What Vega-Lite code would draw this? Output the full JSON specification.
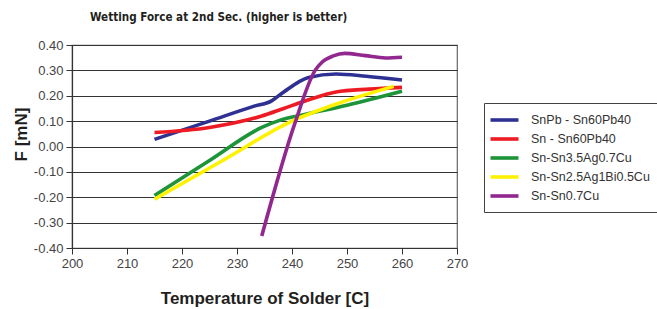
{
  "$schema": "https://vega.github.io/schema/vega-lite/v6.json",
  "width": 385,
  "height": 203,
  "autosize": {"type": "none"},
  "padding": {"left": 72, "top": 45, "right": 200, "bottom": 61},
  "background": "white",
  "title": {
    "text": "Wetting Force at 2nd  Sec. (higher is better)",
    "anchor": "start",
    "frame": "group",
    "dx": 18,
    "offset": 15,
    "font": "DejaVu Sans Condensed, Liberation Sans",
    "fontSize": 11.6,
    "fontWeight": "bold",
    "color": "#231f20"
  },
  "data": {
    "values": [
      {"series": "SnPb - Sn60Pb40", "t": 215, "f": 0.028},
      {"series": "SnPb - Sn60Pb40", "t": 225, "f": 0.10},
      {"series": "SnPb - Sn60Pb40", "t": 233, "f": 0.158},
      {"series": "SnPb - Sn60Pb40", "t": 236.3, "f": 0.18},
      {"series": "SnPb - Sn60Pb40", "t": 238.5, "f": 0.215},
      {"series": "SnPb - Sn60Pb40", "t": 243, "f": 0.272},
      {"series": "SnPb - Sn60Pb40", "t": 248, "f": 0.286},
      {"series": "SnPb - Sn60Pb40", "t": 253.5, "f": 0.277},
      {"series": "SnPb - Sn60Pb40", "t": 260, "f": 0.262},
      {"series": "Sn - Sn60Pb40", "t": 215, "f": 0.055},
      {"series": "Sn - Sn60Pb40", "t": 225, "f": 0.075},
      {"series": "Sn - Sn60Pb40", "t": 234.5, "f": 0.12},
      {"series": "Sn - Sn60Pb40", "t": 238.5, "f": 0.15},
      {"series": "Sn - Sn60Pb40", "t": 242.5, "f": 0.18},
      {"series": "Sn - Sn60Pb40", "t": 248, "f": 0.215},
      {"series": "Sn - Sn60Pb40", "t": 254, "f": 0.226},
      {"series": "Sn - Sn60Pb40", "t": 260, "f": 0.233},
      {"series": "Sn-Sn3.5Ag0.7Cu", "t": 215, "f": -0.193},
      {"series": "Sn-Sn3.5Ag0.7Cu", "t": 225, "f": -0.055},
      {"series": "Sn-Sn3.5Ag0.7Cu", "t": 234.5, "f": 0.075},
      {"series": "Sn-Sn3.5Ag0.7Cu", "t": 238, "f": 0.105},
      {"series": "Sn-Sn3.5Ag0.7Cu", "t": 242.5, "f": 0.127},
      {"series": "Sn-Sn3.5Ag0.7Cu", "t": 250, "f": 0.163},
      {"series": "Sn-Sn3.5Ag0.7Cu", "t": 260, "f": 0.218},
      {"series": "Sn-Sn2.5Ag1Bi0.5Cu", "t": 215, "f": -0.208},
      {"series": "Sn-Sn2.5Ag1Bi0.5Cu", "t": 227, "f": -0.06},
      {"series": "Sn-Sn2.5Ag1Bi0.5Cu", "t": 240, "f": 0.10},
      {"series": "Sn-Sn2.5Ag1Bi0.5Cu", "t": 248, "f": 0.167},
      {"series": "Sn-Sn2.5Ag1Bi0.5Cu", "t": 258.5, "f": 0.237},
      {"series": "Sn-Sn0.7Cu", "t": 234.5, "f": -0.353},
      {"series": "Sn-Sn0.7Cu", "t": 240.5, "f": 0.09},
      {"series": "Sn-Sn0.7Cu", "t": 244.2, "f": 0.30},
      {"series": "Sn-Sn0.7Cu", "t": 245.5, "f": 0.333},
      {"series": "Sn-Sn0.7Cu", "t": 247.5, "f": 0.357},
      {"series": "Sn-Sn0.7Cu", "t": 249.6, "f": 0.367},
      {"series": "Sn-Sn0.7Cu", "t": 253.3, "f": 0.358},
      {"series": "Sn-Sn0.7Cu", "t": 257, "f": 0.349},
      {"series": "Sn-Sn0.7Cu", "t": 260, "f": 0.352}
    ]
  },
  "mark": {"type": "line", "interpolate": "monotone", "strokeWidth": 3.6},
  "encoding": {
    "x": {
      "field": "t", "type": "quantitative",
      "scale": {"domain": [200, 270], "nice": false, "zero": false},
      "axis": {
        "values": [200, 210, 220, 230, 240, 250, 260, 270],
        "grid": false,
        "labelFlush": false,
        "title": "Temperature of Solder [C]",
        "titlePadding": 20
      }
    },
    "y": {
      "field": "f", "type": "quantitative",
      "scale": {"domain": [-0.4, 0.4], "nice": false, "zero": false},
      "axis": {
        "values": [-0.4, -0.3, -0.2, -0.1, 0, 0.1, 0.2, 0.3, 0.4],
        "format": ".2f",
        "grid": true,
        "labelFlush": false,
        "gridColor": "#333333",
        "gridWidth": 1,
        "gridOpacity": 1,
        "title": "F [mN]",
        "titleAngle": 270,
        "titleX": -51,
        "titleY": 89,
        "titleAlign": "center",
        "titleBaseline": "middle"
      }
    },
    "color": {
      "field": "series", "type": "nominal",
      "sort": ["SnPb - Sn60Pb40", "Sn - Sn60Pb40", "Sn-Sn3.5Ag0.7Cu", "Sn-Sn2.5Ag1Bi0.5Cu", "Sn-Sn0.7Cu"],
      "scale": {
        "domain": ["SnPb - Sn60Pb40", "Sn - Sn60Pb40", "Sn-Sn3.5Ag0.7Cu", "Sn-Sn2.5Ag1Bi0.5Cu", "Sn-Sn0.7Cu"],
        "range": ["#2E3192", "#ED1C24", "#1E9438", "#FFF200", "#92278F"]
      },
      "legend": {
        "title": null,
        "orient": "none",
        "legendX": 412,
        "legendY": 58,
        "symbolType": "M-1.5,0H2.5",
        "symbolSize": 196,
        "symbolStrokeWidth": 3.6,
        "symbolFillColor": "transparent",
        "labelFont": "Liberation Sans",
        "labelFontSize": 12.5,
        "labelColor": "#333333",
        "labelOffset": 21,
        "rowPadding": 2,
        "padding": 8,
        "strokeColor": "#444444",
        "fillColor": "white"
      }
    }
  },
  "config": {
    "locale": {"number": {"decimal": ".", "thousands": ",", "grouping": [3], "currency": ["$", ""], "minus": "-"}},
    "view": {"stroke": "#666666", "strokeWidth": 1.2},
    "axis": {
      "labelFont": "Liberation Sans",
      "labelFontSize": 13,
      "labelColor": "#444444",
      "titleFont": "Liberation Sans",
      "titleFontSize": 17,
      "titleFontWeight": "bold",
      "titleColor": "#231f20",
      "domainColor": "#333333",
      "domainWidth": 1.2,
      "tickColor": "#333333",
      "tickSize": 6,
      "labelPadding": 3
    }
  }
}
